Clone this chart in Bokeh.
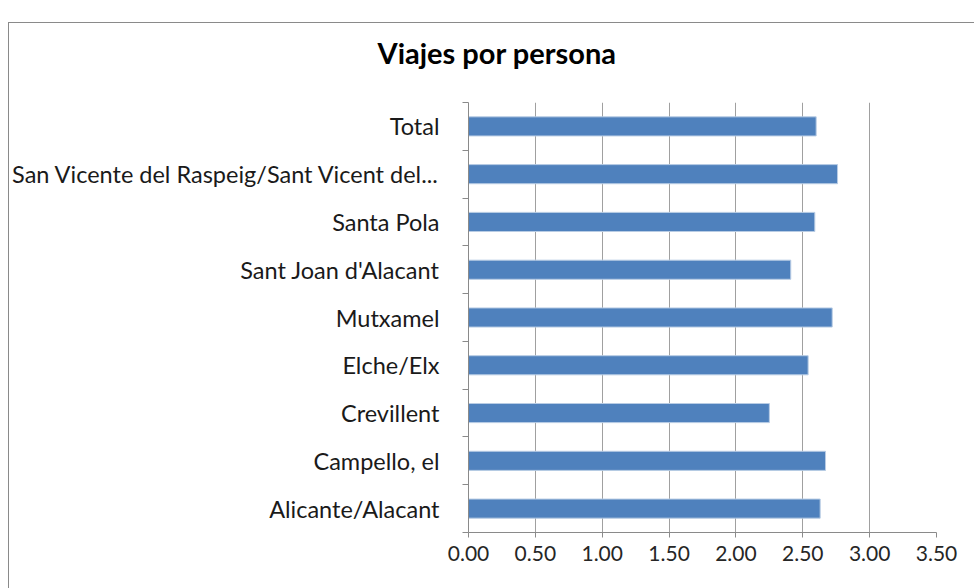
from bokeh.plotting import figure
from bokeh.layouts import column
from bokeh.models import Range1d, FixedTicker, NumeralTickFormatter, ColumnDataSource
from bokeh.embed import file_html
from bokeh.resources import INLINE

# Data (bottom to top)
categories = [
    "Alicante/Alacant",
    "Campello, el",
    "Crevillent",
    "Elche/Elx",
    "Mutxamel",
    "Sant Joan d'Alacant",
    "Santa Pola",
    "San Vicente del Raspeig/Sant Vicent del...",
    "Total",
]
values = [2.63, 2.67, 2.25, 2.54, 2.72, 2.41, 2.59, 2.76, 2.60]
x_ticks = [0.0, 0.5, 1.0, 1.5, 2.0, 2.5, 3.0, 3.5]
title_text = "Viajes por persona"

n = len(categories)
centers = [i + 0.5 for i in range(n)]
boundaries = [float(i) for i in range(n + 1)]

source = ColumnDataSource(dict(y=centers, v=values, name=categories))

# Title strip
tp = figure(
    width=965, height=79,
    output_backend="svg", toolbar_location=None,
    x_axis_location=None, y_axis_location=None,
    min_border=0, title=title_text,
    background_fill_color="white", border_fill_color="white",
)
tp.outline_line_color = None
tp.grid.visible = False
tp.title.align = "left"
tp.title.offset = -91
tp.title.vertical_align = "bottom"
tp.title.standoff = 18
tp.title.text_font = "Lato"
tp.title.text_font_style = "bold"
tp.title.text_font_size = "29px"
tp.title.text_color = "#000000"

# Main chart
p = figure(
    width=965, height=486,
    x_range=Range1d(0, 3.5), y_range=Range1d(0, n),
    output_backend="svg", toolbar_location=None,
    min_border_left=459, min_border_right=38,
    min_border_top=0, min_border_bottom=56,
    background_fill_color="white", border_fill_color="white",
)
p.outline_line_color = None

p.hbar(y="y", right="v", left=0, height=0.4, source=source,
       fill_color="#4F81BD", line_color="#b8cce4", line_width=1)

# X axis
xa = p.xaxis[0]
xa.ticker = FixedTicker(ticks=x_ticks)
xa.formatter = NumeralTickFormatter(format="0.00")
xa.axis_line_color = "#8a8a8a"
xa.major_tick_line_color = "#8a8a8a"
xa.major_tick_out = 5
xa.major_tick_in = 0
xa.minor_tick_out = 0
xa.minor_tick_in = 0
xa.major_label_standoff = 8
xa.major_label_text_font = "Lato"
xa.major_label_text_font_size = "21px"
xa.major_label_text_color = "#262626"

# Y axis: labels at centers, tick marks at boundaries
ya = p.yaxis[0]
ya.ticker = FixedTicker(ticks=centers, minor_ticks=boundaries)
ya.major_label_overrides = {c: name for c, name in zip(centers, categories)}
ya.axis_line_color = "#8a8a8a"
ya.major_tick_out = 0
ya.major_tick_in = 0
ya.minor_tick_out = 6
ya.minor_tick_in = 0
ya.minor_tick_line_color = "#8a8a8a"
ya.major_label_standoff = 23
ya.major_label_text_font = "Lato"
ya.major_label_text_font_size = "23.5px"
ya.major_label_text_color = "#1a1a1a"

p.xgrid.ticker = FixedTicker(ticks=x_ticks)
p.xgrid.grid_line_color = "#a0a0a0"
p.ygrid.grid_line_color = None

layout = column(tp, p, spacing=0)
layout.margin = (22, 0, 0, 8)
layout.styles = {"border-left": "1px solid #8a8a8a", "border-top": "1px solid #8a8a8a"}

open("out.html", "w").write(file_html(layout, INLINE))
